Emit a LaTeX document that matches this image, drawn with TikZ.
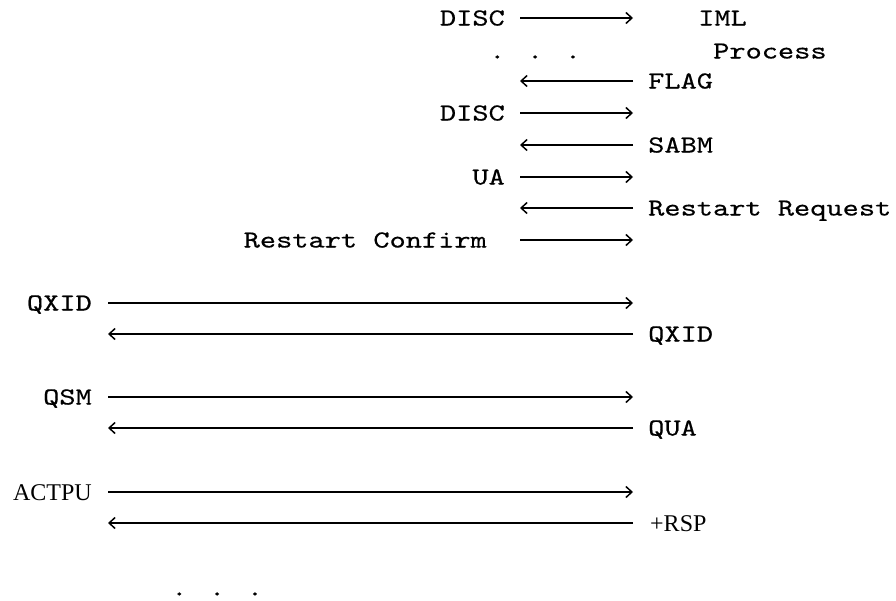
\documentclass[tikz,border=0pt]{standalone}
\usepackage{fontspec}
\usetikzlibrary{arrows.meta}
\newfontfamily\tw{lmmono10-regular.otf}[FakeStretch=1.26,FakeBold=0.4]
\newfontfamily\ts{Liberation Serif}
\begin{document}
\begin{tikzpicture}[x=1pt,y=-1pt,
  lbl/.style={inner sep=0pt, font=\tw\fontsize{24.5}{24.5}\selectfont},
  slbl/.style={inner sep=0pt, font=\ts\fontsize{24}{24}\selectfont},
  msg/.style={line width=1.5pt, -{Straight Barb[length=6pt,width=11pt]}},
]
\useasboundingbox (0,0) rectangle (896,600);
% top section
\node[lbl, anchor=base east] (disc1) at (505,25.5) {DISC};
\node[lbl, anchor=base west] (iml) at (698,25.5) {IML};
\coordinate (a1s) at (520,18); \coordinate (a1e) at (633,18);
\draw[msg] (a1s) -- (a1e);

\node[lbl, anchor=base west] (dots1) at (489,58.5) {. . .};
\node[lbl, anchor=base west] (proc) at (713,58.5) {Process};

\node[lbl, anchor=base west] (flag) at (648,88.5) {FLAG};
\coordinate (a2s) at (633,81); \coordinate (a2e) at (520,81);
\draw[msg] (a2s) -- (a2e);

\node[lbl, anchor=base east] (disc2) at (505,120.5) {DISC};
\coordinate (a3s) at (520,113); \coordinate (a3e) at (633,113);
\draw[msg] (a3s) -- (a3e);

\node[lbl, anchor=base west] (sabm) at (648,152.5) {SABM};
\coordinate (a4s) at (633,145); \coordinate (a4e) at (520,145);
\draw[msg] (a4s) -- (a4e);

\node[lbl, anchor=base east] (ua) at (505,184.5) {UA};
\coordinate (a5s) at (520,177); \coordinate (a5e) at (633,177);
\draw[msg] (a5s) -- (a5e);

\node[lbl, anchor=base west] (rreq) at (648,215.5) {Restart Request};
\coordinate (a6s) at (633,208); \coordinate (a6e) at (520,208);
\draw[msg] (a6s) -- (a6e);

\node[lbl, anchor=base east] (rconf) at (487,247.5) {Restart Confirm};
\coordinate (a7s) at (520,240); \coordinate (a7e) at (633,240);
\draw[msg] (a7s) -- (a7e);

% lower section
\node[lbl, anchor=base east] (qxid1) at (92,310.5) {QXID};
\coordinate (b1s) at (108,303); \coordinate (b1e) at (633,303);
\draw[msg] (b1s) -- (b1e);

\node[lbl, anchor=base west] (qxid2) at (648,341.5) {QXID};
\coordinate (b2s) at (633,334); \coordinate (b2e) at (108,334);
\draw[msg] (b2s) -- (b2e);

\node[lbl, anchor=base east] (qsm) at (92,404.5) {QSM};
\coordinate (b3s) at (108,397); \coordinate (b3e) at (633,397);
\draw[msg] (b3s) -- (b3e);

\node[lbl, anchor=base west] (qua) at (648,435.5) {QUA};
\coordinate (b4s) at (633,428); \coordinate (b4e) at (108,428);
\draw[msg] (b4s) -- (b4e);

\node[slbl, anchor=base east] (actpu) at (92,500) {ACTPU};
\coordinate (b5s) at (108,492); \coordinate (b5e) at (633,492);
\draw[msg] (b5s) -- (b5e);

\node[slbl, anchor=base west] (rsp) at (650,531) {+RSP};
\coordinate (b6s) at (633,523); \coordinate (b6e) at (108,523);
\draw[msg] (b6s) -- (b6e);

\node[lbl, anchor=base west] (dots2) at (171,595.5) {. . .};
\end{tikzpicture}
\end{document}
